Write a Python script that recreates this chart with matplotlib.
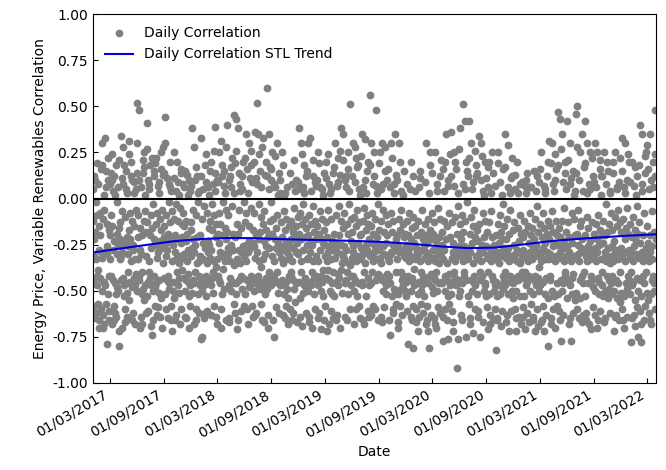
import numpy as np
import pandas as pd
import matplotlib
matplotlib.use("Agg")
import matplotlib.pyplot as plt
import matplotlib.dates as mdates

# Daily correlation values (hundredths), one list per month
m2017 = [
 [5,-12,-44,-58,-22,12,-31,-65,10,-18,-33,-2,-62,-9,-47,-42,19,8,-39,-57,-15,-66,-70,-28,-8,-43,-20,-60,-29,16,-50],
 [30,18,-32,-11,-63,-70,2,-68,-45,-6,-29,-47,33,6,15,-57,-79,-14,-30,-26,10,-52,22,-66,-17,-61,-42,8],
 [-20,-33,14,-9,-42,10,-68,24,-15,-28,4,-44,-23,-58,-66,12,-46,2,-62,-52,18,-64,-19,-48,-2,-30,-50,-25,6,-72,-16],
 [21,-80,-22,-33,-13,34,-31,-44,11,-7,-29,-70,8,-43,28,-47,-24,18,-53,-67,-10,-60,5,15,-46,-21,3,-51,-64,-40],
 [-26,-30,31,-17,-55,24,-8,-45,-22,20,-34,12,-12,-48,-66,10,-28,-25,-62,-15,9,-43,3,-47,-68,-33,-6,-41,5,-50,14],
 [30,52,-21,-33,-9,-44,-42,10,48,-16,-28,-70,-30,6,-64,-52,-68,-20,-40,14,21,-49,-12,17,25,-55,2,-47,-7,-62],
 [-18,-31,27,41,-53,-13,-45,10,-61,-40,5,8,-34,-20,18,-43,-47,-69,-9,-27,22,-74,-16,-50,-66,-3,-42,15,12,-22,-58],
 [19,-48,-14,-46,-25,22,-32,-8,-63,-59,7,-29,9,3,-51,-44,-11,-64,-23,16,25,-54,-17,-70,-27,-6,-35,13,28,-21,-43],
 [14,-15,-52,44,30,-31,-9,-60,-24,-44,11,-28,-19,-65,-42,-2,-46,8,-49,-13,20,6,-66,-22,-58,4,-7,-34,-72,-50],
 [-25,-45,-11,-54,11,25,-29,-20,-66,-63,4,-33,-3,20,-40,-22,-47,-12,9,-43,-35,2,-51,-68,-31,-5,16,-24,-60,14,-14],
 [-39,-21,-32,8,-8,-30,6,-43,-15,-64,15,-50,-23,-44,-65,-12,13,-34,-19,-28,2,-41,-53,-70,-46,10,-47,4,-58,-17],
 [7,-31,-13,-27,-51,38,-22,-44,-6,-29,28,-68,-46,10,-40,-25,-60,-9,17,-66,12,-21,-35,3,-2,-52,-34,4,-42,-62,-47],
]
m2018 = [
 [-20,-31,-76,12,33,-44,-11,-50,-75,-24,-33,5,-65,-43,-4,-47,-27,-62,18,24,-53,9,-42,-8,-35,-61,-23,-29,6,2,-16],
 [-45,-25,-32,-12,15,-47,20,-63,-28,-17,-43,-3,-51,8,-40,26,-58,-9,-34,14,39,4,-14,-64,-21,-37,10,-68],
 [-33,-19,9,-42,-8,-44,25,-24,-29,-14,-46,-60,-70,31,-31,12,18,-52,-20,-2,-38,7,-49,15,-30,-34,-16,3,-66,-22,-6],
 [28,-32,-18,40,-27,-30,-9,-47,-67,10,-65,-43,12,-34,-25,17,-50,6,-4,-45,22,-28,-46,-19,-57,-36,3,45,19,-62],
 [-21,-46,-52,43,26,-14,-33,-71,-66,38,-19,-28,-6,14,-44,4,8,-35,-29,-61,-16,-42,-49,12,5,20,-26,-43,-58,-2,-31],
 [-31,-13,22,-52,35,-25,-34,-8,-44,16,-60,-68,3,-29,-23,30,-48,-15,11,-47,-27,-5,-42,18,26,-46,9,-58,-24,-64],
 [-17,20,-50,-26,-8,-32,36,-63,-62,-20,-44,11,52,-29,8,35,-42,-47,-22,-3,-34,24,15,-49,-18,-37,-57,6,-10,-45,-66],
 [28,-33,-14,33,-67,-23,-46,-7,-30,13,-52,20,-26,-43,-17,12,60,-49,-21,-63,-70,5,-40,-27,35,-44,-12,17,-47,10,-2],
 [16,-19,-31,25,-66,-42,-11,-43,8,-34,-75,-22,23,6,-45,-16,-59,-27,30,-40,-9,2,-51,-24,-29,14,-46,-62,3,-47],
 [10,-32,-13,-47,-26,25,-44,-21,-35,18,-63,-7,-28,2,-52,-17,-65,3,-45,-24,-58,-11,6,-49,-29,-68,-33,-54,-23,-42,-15],
 [-31,-26,14,-60,-12,-40,-22,-42,-66,8,-34,-18,-44,-62,-27,-49,-5,21,4,-20,-56,-29,10,-46,-15,-29,-24,-67,5,-10],
 [9,-30,-19,38,-45,-54,-8,-64,-34,30,-22,-40,-69,-14,24,-51,6,-3,-28,3,18,-47,-21,-43,-11,-48,12,-62,-16,-33,-25],
]
m2019 = [
 [15,-50,30,-20,-32,-67,-64,-9,-45,33,-29,-23,4,-47,-14,-40,-70,-25,-4,-34,21,12,-52,-18,-43,9,-60,-12,-42,7,-22],
 [-31,10,-44,-15,-47,25,-65,-34,-19,-62,19,-7,-28,6,-71,-22,-50,-42,-11,-45,5,2,-53,-24,-39,-17,-66,14],
 [-25,-31,-58,-13,-43,20,11,-34,-72,-21,-39,-6,-29,24,-44,8,-68,-50,-26,3,-33,5,-61,-11,-46,-52,-23,-40,14,-28,-65],
 [-19,17,-53,-27,30,-32,-9,-45,-24,-66,-63,-29,7,-41,22,9,-47,-20,-43,-4,13,26,-70,-12,-39,-25,38,-51,-30,-35],
 [-16,21,-31,35,-26,-33,-8,-46,-64,10,-28,12,-44,6,-66,-14,-40,25,16,-52,-19,-3,-35,4,51,-36,-60,-23,-47,-11,-42],
 [12,-32,-18,-42,30,-26,-29,-10,-68,-50,9,28,-44,-60,-15,22,-34,-6,17,-53,-46,18,-24,-31,-13,5,-58,-20,-65,2],
 [23,-19,-33,-27,35,-45,-47,-12,-66,-30,6,-40,-5,-68,10,-35,32,-17,3,-53,-25,-9,-28,15,-61,-14,-43,20,-47,-22,-64],
 [56,18,-31,-15,-63,-46,30,-24,-40,-8,-34,8,-19,-58,25,12,-29,-26,-60,-11,-44,7,48,-33,-21,3,-43,-3,-41,-25,-66],
 [-17,19,-28,-42,25,-32,-12,-64,-35,5,-67,-44,30,-26,-50,-6,8,-30,-18,-59,28,15,-45,-24,-47,-9,-52,10,-20,-41],
 [-32,16,-44,-14,-42,-66,-34,6,-74,-46,-8,-30,-29,30,-53,-18,22,-62,-25,-60,-12,3,-49,8,-28,-27,35,-22,-40,13,-57],
 [10,-33,-20,-67,-70,-26,-52,-11,-29,30,20,-58,-17,-40,4,-49,-6,-44,-63,-28,-47,-14,2,-42,-21,15,-31,-30,-50,-19],
 [-45,-53,-25,-32,-12,-61,8,-20,-29,-42,-79,-27,-34,-8,-44,5,-31,20,-22,-50,-64,-66,-16,-43,12,-58,-10,-81,-38,-47,-24],
]
m2020 = [
 [4,-33,-15,-31,-60,-27,-67,-46,-20,-29,-72,-30,-12,-52,-45,6,-64,-34,15,11,-50,-18,-40,-57,-28,-47,-6,-42,-62,-22,-44],
 [-44,-26,-53,-14,-32,9,-68,-20,-29,30,-66,-58,-24,-34,-11,-46,-72,3,-81,-31,-17,-42,18,25,-41,-63,-22,-48,-8],
 [14,-51,-19,-32,-28,-65,-43,-13,-44,-68,-34,25,-23,-40,-70,4,-50,8,-30,-27,-59,-5,-46,-35,-21,12,-62,-29,-11,-45,21],
 [-31,-25,-46,-18,16,-33,-64,-77,-12,-28,4,-60,20,-42,-50,-22,-44,35,-35,-15,-66,7,-53,10,-76,-41,-8,-57,24,-47],
 [-21,-45,-52,12,36,-32,-13,-61,-67,-29,-24,-72,-40,7,25,-43,20,-34,-10,-47,-27,16,-92,-31,-19,3,-76,-4,-44,-26,-53],
 [27,-14,-50,38,-28,-31,-63,-22,-66,-9,-46,8,-34,51,-18,-40,-26,-42,42,5,-12,-29,20,-75,-44,-2,-33,15,-53,12],
 [-32,-27,42,22,-57,-19,-29,-68,-65,-10,-44,30,-50,-24,5,-73,-15,-35,9,-46,-6,-42,-47,-21,-60,26,12,-31,18,-52,-17],
 [14,-33,-23,-61,-64,34,-30,-14,-44,-28,-40,-75,10,-34,30,23,-42,-25,-8,-29,4,-67,-21,-50,2,-12,-47,-46,20,-53,-26],
 [11,-32,-18,-59,17,-71,-40,6,20,-52,-13,-68,-30,-27,-63,3,-7,-34,-21,-42,25,-44,-29,-66,14,-28,-50,-25,-60,-47],
 [-33,7,-82,-45,-20,-53,-66,-65,-14,-30,25,19,-47,-24,-35,9,-9,-52,-29,-69,-18,-31,2,-61,-22,-49,-3,-42,16,-27,-44],
 [-15,-40,-47,17,35,-32,-22,-67,-63,-11,-29,29,-27,-52,6,-72,-19,-34,-6,-42,3,-31,11,-61,-45,12,-50,22,-43,-17],
 [-46,-54,-25,-33,-13,-60,13,-30,5,-72,-65,-50,-28,20,-34,-16,-42,3,-44,-64,-23,-29,-9,-35,-53,8,-43,-68,-19,-40,9],
]
m2021 = [
 [-32,-21,-64,-59,-28,-30,-12,-53,7,-71,-40,-18,-47,3,10,-45,-62,14,-33,-15,-43,-34,-24,-67,-42,-8,-50,-29,6,-57,-20],
 [6,-33,-16,-30,-64,-27,-52,-66,15,-44,-22,-72,-31,-42,-11,-47,4,-25,-60,12,-4,-43,-29,-69,-18,-50,-37,9],
 [-31,-14,-47,16,-34,25,-67,-66,-21,-29,-45,-8,-58,-27,7,-72,-16,3,-52,-24,5,-33,-43,-63,-19,12,-29,-54,-12,-80,20],
 [-33,-22,31,-44,-42,-15,-30,19,-65,-68,-7,-50,30,-26,8,-60,-18,4,-53,-24,-34,10,24,-70,-12,-31,16,-46,-58,-20],
 [18,47,-52,-25,-32,-16,-61,-66,43,-29,-21,-44,-77,27,35,-50,-12,9,-27,-63,-46,-5,-34,-23,20,-40,-42,14,-18,-31,5],
 [-54,-26,42,-45,-13,-33,21,-68,-21,-29,30,-65,-47,8,-77,11,-34,-8,-43,-52,-24,15,-41,-62,2,-31,-11,4,-55,-20],
 [-32,14,46,-51,-19,50,28,-60,-25,-30,-6,-34,10,-65,-15,-44,25,-54,-27,-29,-12,-67,-42,-22,35,-46,4,-63,17,-40,-28],
 [42,19,-53,-20,-31,-66,-62,-10,3,-34,30,-26,-46,-16,-29,8,-68,-23,-33,5,25,-42,-71,-28,-13,-30,-44,22,-59,12,-48],
 [-19,-31,9,-63,30,-27,-50,-14,-34,6,-70,-22,25,-29,-66,-43,-9,-45,-52,-25,16,-17,-61,21,12,-33,2,-40,-20,-47],
 [12,-24,-53,-12,-32,25,-67,-65,-20,-29,-50,8,-3,-34,20,-42,-18,-31,-27,15,-54,-44,-14,-49,3,-62,4,-35,-8,-46,-52],
 [-26,-31,-17,-42,14,20,-34,-72,-23,-50,-64,-10,-29,25,-44,-63,-28,5,-15,-54,6,-6,-33,-46,-66,9,-30,22,-56,-13],
 [-40,-27,-51,-18,-32,15,-60,33,-66,-30,-11,-53,6,-70,-22,30,-34,3,-46,-16,-29,10,-64,-5,-49,24,-19,-42,20,-44,-28],
]
m2022 = [
 [9,-52,-14,-32,-29,-78,-40,-21,-47,-65,20,-34,-10,-45,-63,-26,7,-17,-55,17,-69,-23,-30,2,-4,-59,12,-43,-75,-19,-50],
 [18,-32,-13,40,-44,-61,-24,-53,-68,-78,8,35,-29,4,-42,-20,-34,-46,-8,-66,23,-31,14,-58,-40,25,-27,-51],
 [-15,-31,29,-55,16,-24,-34,5,-62,-66,35,-29,-20,-52,10,-68,-7,-44,-33,-26,-42,20,6,-46,-18,-50,48,24,12,-60,-22],
]

# STL trend, read at quarter starts
trend_dates = ["2017-01-01","2017-04-01","2017-07-01","2017-10-01","2018-01-01","2018-04-01",
               "2018-07-01","2018-10-01","2019-01-01","2019-04-01","2019-07-01","2019-10-01",
               "2020-01-01","2020-04-01","2020-07-01","2020-10-01","2021-01-01","2021-04-01",
               "2021-07-01","2021-10-01","2022-01-01","2022-03-31"]
trend_vals = [-0.293,-0.272,-0.252,-0.232,-0.220,-0.214,-0.215,-0.220,-0.224,-0.227,-0.231,-0.237,
              -0.247,-0.260,-0.269,-0.266,-0.250,-0.232,-0.220,-0.210,-0.201,-0.194]

months = m2017 + m2018 + m2019 + m2020 + m2021 + m2022
values = np.concatenate([np.array(m, dtype=float) for m in months]) / 100.0
dates = pd.date_range("2017-01-01", periods=len(values), freq="D")
tdates = pd.to_datetime(trend_dates)

fig = plt.figure(figsize=(6.66, 4.70), dpi=100)
ax = fig.add_axes([92.7/666, 1-383/470, (655.7-92.7)/666, (383-14)/470])

ax.plot(dates, values, "o", color="grey", markersize=4.6, linestyle="none",
        label="Daily Correlation")
ax.plot(tdates, trend_vals, color="#0000dd", linewidth=1.5,
        label="Daily Correlation STL Trend")
ax.axhline(0, color="black", linewidth=1.5)

ax.set_ylim(-1, 1)
ax.set_xlim(pd.Timestamp("2017-01-01"), pd.Timestamp("2022-03-31"))
ax.set_yticks(np.arange(-1, 1.01, 0.25))
ax.yaxis.set_major_formatter(matplotlib.ticker.FormatStrFormatter("%.2f"))
ax.xaxis.set_major_locator(mdates.MonthLocator(bymonth=[3, 9], bymonthday=1))
ax.xaxis.set_major_formatter(mdates.DateFormatter("%d/%m/%Y"))
ax.tick_params(direction="in")
for lab in ax.get_xticklabels():
    lab.set_rotation(30)
    lab.set_ha("right")

ax.set_xlabel("Date")
ax.set_ylabel("Energy Price, Variable Renewables Correlation")
ax.legend(loc="upper left", frameon=False)

fig.savefig("out.png", dpi=100)
